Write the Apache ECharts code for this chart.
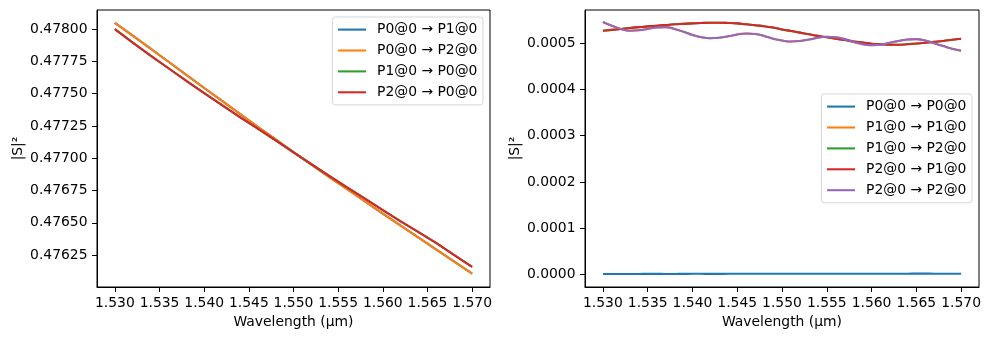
<!DOCTYPE html>
<html>
<head>
<meta charset="utf-8">
<script src="https://cdn.jsdelivr.net/npm/echarts@6/dist/echarts.min.js"></script>
<style>html,body{margin:0;padding:0;background:#fff}#c{width:990px;height:340px}</style>
</head>
<body>
<div id="c"></div>
<script>
// ---- data ----
const wlLeft = [1.530,1.532,1.534,1.536,1.538,1.540,1.542,1.544,1.546,1.548,1.550,1.552,1.554,1.556,1.558,1.560,1.562,1.564,1.566,1.568,1.570];
const s01 = [0.478049,0.477949,0.477849,0.477747,0.477645,0.477544,0.477444,0.477344,0.477244,0.477146,0.477047,0.476950,0.476854,0.476760,0.476666,0.476571,0.476479,0.476386,0.476293,0.476200,0.476106];
const s02 = s01.slice();
const s10 = [0.478000,0.477895,0.477794,0.477697,0.477599,0.477504,0.477411,0.477319,0.477229,0.477138,0.477045,0.476954,0.476864,0.476775,0.476688,0.476598,0.476512,0.476428,0.476342,0.476250,0.476158];
const s20 = s10.slice();

const wlRight = [1.530,1.531,1.532,1.533,1.534,1.535,1.536,1.537,1.538,1.539,1.540,1.541,1.542,1.543,1.544,1.545,1.546,1.547,1.548,1.549,1.550,1.551,1.552,1.553,1.554,1.555,1.556,1.557,1.558,1.559,1.560,1.561,1.562,1.563,1.564,1.565,1.566,1.567,1.568,1.569,1.570];
const s00 = [0.0000010,0.0000010,0.0000009,0.0000009,0.0000010,0.0000011,0.0000011,0.0000010,0.0000010,0.0000011,0.0000012,0.0000012,0.0000011,0.0000011,0.0000012,0.0000013,0.0000013,0.0000012,0.0000012,0.0000013,0.0000014,0.0000014,0.0000013,0.0000013,0.0000014,0.0000015,0.0000015,0.0000014,0.0000014,0.0000015,0.0000015,0.0000015,0.0000014,0.0000014,0.0000015,0.0000016,0.0000016,0.0000015,0.0000014,0.0000014,0.0000014];
const s22 = [0.000546,0.000538,0.000531,0.000527,0.000528,0.000531,0.000534,0.000535,0.000531,0.000525,0.000518,0.000513,0.000511,0.000512,0.000515,0.000519,0.000521,0.000520,0.000516,0.000510,0.000506,0.000504,0.000505,0.000508,0.000512,0.000514,0.000513,0.000509,0.000503,0.000498,0.000496,0.000497,0.000501,0.000505,0.000508,0.000509,0.000506,0.000500,0.000494,0.000488,0.000484];
const s11 = s22.slice();
const s21 = [0.000527,0.000529,0.000531,0.000533,0.000535,0.0005365,0.000538,0.0005395,0.000541,0.000542,0.000543,0.000544,0.0005445,0.0005445,0.000544,0.000543,0.000541,0.000539,0.000537,0.000534,0.000530,0.0005265,0.000523,0.0005195,0.000516,0.000513,0.000510,0.000507,0.000504,0.0005015,0.000499,0.000498,0.000497,0.000497,0.000498,0.0004995,0.000501,0.000503,0.000505,0.0005075,0.000510];
const s12 = s21.slice();

const xTicks = [1.530,1.535,1.540,1.545,1.550,1.555,1.560,1.565,1.570];
const yTicksLeft = [0.47625,0.47650,0.47675,0.47700,0.47725,0.47750,0.47775,0.47800];
const yTicksRight = [0,0.0001,0.0002,0.0003,0.0004,0.0005];

const leftNames = ['P0@0 \u2192 P1@0','P0@0 \u2192 P2@0','P1@0 \u2192 P0@0','P2@0 \u2192 P0@0'];
const rightNames = ['P0@0 \u2192 P0@0','P1@0 \u2192 P1@0','P1@0 \u2192 P2@0','P2@0 \u2192 P1@0','P2@0 \u2192 P2@0'];
const colors = ['#1f77b4','#ff7f0e','#2ca02c','#d62728','#9467bd'];

// ---- chart ----
const FONT = 'DejaVu Sans';
const FS = 13.9;
const pairs = (xs, ys) => xs.map((x, i) => [x, ys[i]]);

function xAxis(gi) {
  return {
    type: 'value', gridIndex: gi, min: 1.528, max: 1.572,
    name: 'Wavelength (\u03bcm)', nameLocation: 'middle', nameGap: 27,
    nameTextStyle: {fontFamily: FONT, fontSize: FS, color: '#000'},
    axisLine: {show: true, onZero: false, lineStyle: {color: '#000', width: 1}},
    axisTick: {show: true, length: 4.9, lineStyle: {color: '#000', width: 1}, customValues: xTicks},
    axisLabel: {fontFamily: FONT, fontSize: FS, color: '#000', margin: 9, customValues: xTicks,
      formatter: v => v.toFixed(3)},
    splitLine: {show: false}
  };
}
function yAxis(gi, min, max, ticks, dec, gap) {
  return {
    type: 'value', gridIndex: gi, min: min, max: max,
    name: '|S|\u00b2', nameLocation: 'middle', nameGap: gap, nameRotate: 90,
    nameTextStyle: {fontFamily: FONT, fontSize: FS, color: '#000'},
    axisLine: {show: true, onZero: false, lineStyle: {color: '#000', width: 1}},
    axisTick: {show: true, length: 4.9, lineStyle: {color: '#000', width: 1}, customValues: ticks},
    axisLabel: {fontFamily: FONT, fontSize: FS, color: '#000', margin: 9.5, customValues: ticks,
      formatter: v => v.toFixed(dec)},
    splitLine: {show: false}
  };
}
function line(name, xs, ys, ai, ci, smooth) {
  return {
    name: name, type: 'line', xAxisIndex: ai, yAxisIndex: ai,
    data: pairs(xs, ys), symbol: 'none', showSymbol: false, smooth: smooth,
    lineStyle: {color: colors[ci], width: 2.08}, itemStyle: {color: colors[ci]},
    emphasis: {disabled: true}
  };
}
function legend(names, right, top) {
  return {
    data: names.map(n => ({name: n, icon: 'rect'})),
    orient: 'vertical', right: right, top: top,
    itemWidth: 28, itemHeight: 2.08, itemGap: 6.9, padding: 5.6,
    backgroundColor: 'rgba(255,255,255,0.8)', borderColor: 'rgba(204,204,204,0.8)',
    borderWidth: 1, borderRadius: 3,
    textStyle: {fontFamily: FONT, fontSize: FS, color: '#000', lineHeight: 14, padding: [0, 0, 0, 6]},
    selectedMode: false
  };
}

const chart = echarts.init(document.getElementById('c'), null, {renderer: 'canvas'});
chart.setOption({
  animation: false,
  backgroundColor: '#fff',
  grid: [
    {left: 97, top: 10, width: 393, height: 277, show: true, borderColor: '#000', borderWidth: 1, backgroundColor: 'transparent'},
    {left: 585, top: 10, width: 394, height: 277, show: true, borderColor: '#000', borderWidth: 1, backgroundColor: 'transparent'}
  ],
  xAxis: [xAxis(0), xAxis(1)],
  yAxis: [
    yAxis(0, 0.476003, 0.478148, yTicksLeft, 5, 72),
    yAxis(1, -0.0000273, 0.000572, yTicksRight, 4, 63)
  ],
  legend: [legend(leftNames, 507, 17), legend(rightNames, 18, 94)],
  series: [
    line(leftNames[0], wlLeft, s01, 0, 0, false),
    line(leftNames[1], wlLeft, s02, 0, 1, false),
    line(leftNames[2], wlLeft, s10, 0, 2, false),
    line(leftNames[3], wlLeft, s20, 0, 3, false),
    line(rightNames[0], wlRight, s00, 1, 0, true),
    line(rightNames[1], wlRight, s11, 1, 1, true),
    line(rightNames[2], wlRight, s12, 1, 2, true),
    line(rightNames[3], wlRight, s21, 1, 3, true),
    line(rightNames[4], wlRight, s22, 1, 4, true)
  ]
});
</script>
</body>
</html>
